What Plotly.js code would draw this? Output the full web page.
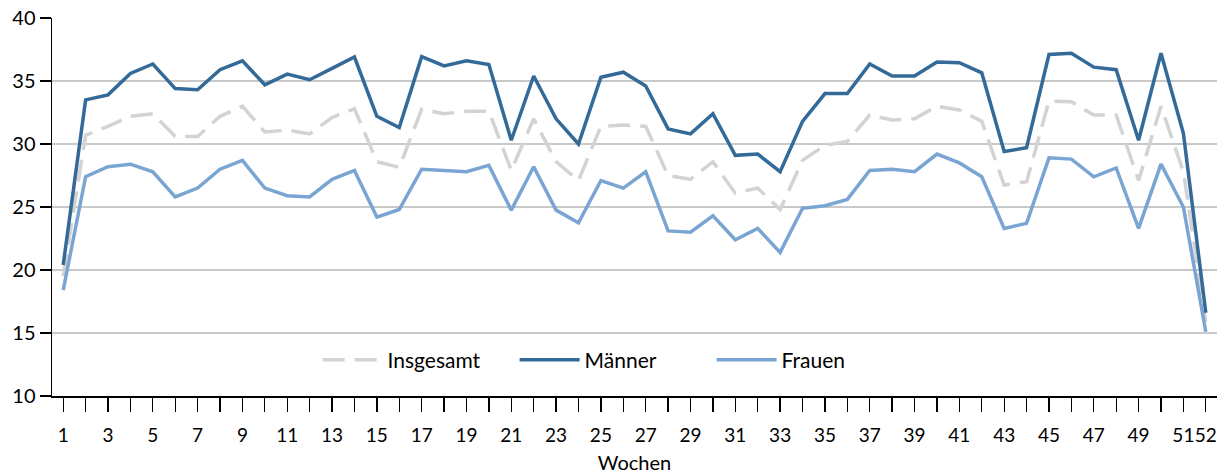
<!DOCTYPE html>
<html>
<head>
<meta charset="utf-8">
<script src="https://cdn.plot.ly/plotly-3.0.1.min.js"></script>
<style>html,body{margin:0;padding:0;background:#fff}#chart{width:1230px;height:475px}</style>
</head>
<body>
<div id="chart"></div>
<script>
const weeks = [];
for (let i = 1; i <= 52; i++) weeks.push(i);
const tickLabels = weeks.map(w => (w % 2 === 1 || w === 52) ? String(w) : '');

const insgesamt = [19.5,30.7,31.4,32.2,32.4,30.6,30.6,32.2,33.0,30.95,31.1,30.8,32.1,32.8,28.6,28.15,
  32.75,32.4,32.6,32.6,27.9,32.0,28.6,27.1,31.4,31.5,31.4,27.5,27.2,28.6,26.1,26.5,24.8,28.7,
  29.9,30.2,32.3,31.9,32.0,33.0,32.7,31.8,26.75,27.0,33.4,33.35,32.3,32.3,27.1,33.0,27.8,15.9];
const maenner = [20.4,33.5,33.9,35.6,36.35,34.4,34.3,35.9,36.6,34.7,35.55,35.1,36.0,36.9,32.2,31.3,
  36.93,36.2,36.6,36.3,30.3,35.4,32.0,30.0,35.3,35.7,34.6,31.2,30.8,32.4,29.1,29.2,27.8,31.8,
  34.0,34.0,36.35,35.4,35.4,36.5,36.45,35.65,29.4,29.7,37.1,37.2,36.1,35.9,30.3,37.2,30.85,16.6];
const frauen = [18.4,27.4,28.2,28.4,27.8,25.8,26.5,28.0,28.7,26.5,25.9,25.8,27.2,27.9,24.2,24.8,
  28.0,27.9,27.8,28.3,24.75,28.2,24.75,23.75,27.1,26.5,27.8,23.1,23.0,24.3,22.4,23.3,21.4,24.9,
  25.1,25.6,27.9,28.0,27.8,29.2,28.5,27.4,23.3,23.7,28.9,28.8,27.4,28.1,23.3,28.4,25.0,15.1];

const FONT = 'Lato, "Open Sans", sans-serif';
const traces = [
  {x: weeks, y: insgesamt, name: 'Insgesamt', type: 'scatter', mode: 'lines',
   line: {color: '#d3d3d3', width: 3.5, dash: '22px,10px'}},
  {x: weeks, y: maenner, name: 'Männer', type: 'scatter', mode: 'lines',
   line: {color: '#336a98', width: 3.5}},
  {x: weeks, y: frauen, name: 'Frauen', type: 'scatter', mode: 'lines',
   line: {color: '#7aa5d3', width: 3.5}}
];
const layout = {
  width: 1230, height: 475,
  margin: {l: 52, r: 13, t: 18, b: 79},
  paper_bgcolor: '#fff', plot_bgcolor: '#fff',
  font: {family: FONT, size: 19, color: '#000'},
  showlegend: true,
  legend: {orientation: 'h', x: 0.228, y: 0.095, xanchor: 'left', yanchor: 'middle',
           bgcolor: 'rgba(0,0,0,0)', font: {family: FONT, size: 21}, itemwidth: 60,
           entrywidth: 122, entrywidthmode: 'pixels', tracegroupgap: 0},
  xaxis: {
    range: [0.5, 52.5], tickmode: 'array', tickvals: weeks, ticktext: tickLabels, tickangle: 0,
    ticks: 'outside', ticklen: 14, tickwidth: 1.3, tickcolor: '#000', ticklabelstandoff: 8,
    showline: true, linecolor: '#000', linewidth: 1.5, showgrid: false, zeroline: false,
    tickfont: {family: FONT, size: 19},
    title: {text: 'Wochen', font: {family: FONT, size: 20}, standoff: 10}
  },
  yaxis: {
    range: [10, 40], dtick: 5, tick0: 10, ticks: 'outside', ticklen: 11, tickwidth: 1.3, tickcolor: '#000',
    showline: true, linecolor: '#000', linewidth: 1.5, showgrid: true, gridcolor: '#c9c9c9', gridwidth: 1.5,
    zeroline: false, tickfont: {family: FONT, size: 20}
  }
};
Plotly.newPlot('chart', traces, layout, {displayModeBar: false, staticPlot: true});
</script>
</body>
</html>
